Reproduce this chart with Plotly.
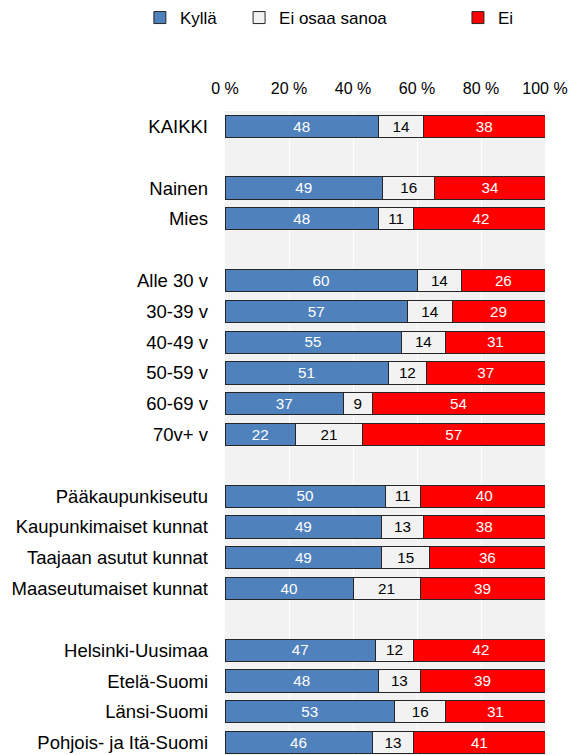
import plotly.graph_objects as go

# rows, top to bottom; blank strings are spacer rows between groups
categories = [
    "KAIKKI", " ",
    "Nainen", "Mies", "  ",
    "Alle 30 v", "30-39 v", "40-49 v", "50-59 v", "60-69 v", "70v+ v", "   ",
    "Pääkaupunkiseutu", "Kaupunkimaiset kunnat", "Taajaan asutut kunnat", "Maaseutumaiset kunnat", "    ",
    "Helsinki-Uusimaa", "Etelä-Suomi", "Länsi-Suomi", "Pohjois- ja Itä-Suomi",
]
# shares in %, labels are shown rounded
kylla = [48, None, 49.2, 48, None, 60, 57, 55, 51, 37, 22, None, 50, 49, 49, 40, None, 47, 48, 53, 46]
eos = [14, None, 16.4, 11, None, 14, 14, 14, 12, 9, 21, None, 11, 13, 15, 21, None, 12, 13, 16, 13]
ei = [38, None, 34.4, 42, None, 26, 29, 31, 37, 54, 57, None, 40, 38, 36, 39, None, 42, 39, 31, 41]

tick_vals = [0, 20, 40, 60, 80, 100]
tick_text = ["0 %", "20 %", "40 %", "60 %", "80 %", "100 %"]

series = [
    ("Kyllä", kylla, "#4F81BD", "white", "legend"),
    ("Ei osaa sanoa", eos, "#F2F2F2", "black", "legend2"),
    ("Ei", ei, "#FF0000", "white", "legend3"),
]

fig = go.Figure()
for name, vals, color, tcolor, leg in series:
    fig.add_trace(go.Bar(
        y=categories, x=vals, name=name, orientation="h",
        marker=dict(color=color, line=dict(color="#262626", width=1)),
        width=0.72,
        text=["" if v is None else f"{v:.0f}" for v in vals],
        textposition="inside", insidetextanchor="middle", textangle=0,
        textfont=dict(color=tcolor, size=16, family="Liberation Sans, Arial"),
        hoverinfo="skip",
        legend=leg, showlegend=True,
    ))

leg_common = dict(orientation="h", yanchor="middle", y=1.144, xanchor="left",
                  bgcolor="rgba(0,0,0,0)",
                  font=dict(size=17, family="Liberation Sans, Arial", color="black"))

fig.update_layout(
    barmode="stack",
    width=569, height=755,
    showlegend=True,
    margin=dict(l=225, r=24, t=110, b=0),
    plot_bgcolor="#F2F2F2", paper_bgcolor="white",
    font=dict(family="Liberation Sans, Arial", color="black"),
    legend=dict(x=-0.266, **leg_common),
    legend2=dict(x=0.044, **leg_common),
    legend3=dict(x=0.728, **leg_common),
)
fig.update_xaxes(
    side="top", range=[0, 100], tickvals=tick_vals, ticktext=tick_text,
    showgrid=True, gridcolor="white", gridwidth=1, zeroline=False,
    tickfont=dict(size=16), ticklabelstandoff=13, fixedrange=True,
)
fig.update_yaxes(
    categoryorder="array", categoryarray=categories,
    range=[20.4, -0.5], showgrid=False, zeroline=False,
    tickfont=dict(size=18.5), ticklabelstandoff=16, fixedrange=True,
)

fig.write_html("out.html", config={"displayModeBar": False},
               post_script="document.body.style.margin='0';")
